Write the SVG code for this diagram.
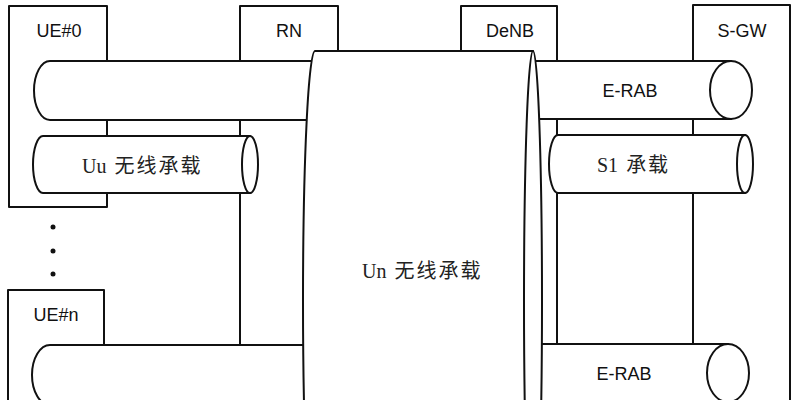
<svg xmlns="http://www.w3.org/2000/svg" width="799" height="400" viewBox="0 0 799 400">
<style>
.s{fill:#fff;stroke:#111;stroke-width:2;stroke-linejoin:round}
.lbl{font-family:"Liberation Sans",Arial,sans-serif;font-size:18px;fill:#111;text-anchor:middle}
.cj{font-family:"Liberation Serif","Noto Sans CJK SC",serif;font-size:20px;fill:#222}
.sp{letter-spacing:2px}
</style>
<rect width="799" height="400" fill="#fff"/>
<g id="nodes">
  <g id="ue0"><rect class="s" x="9" y="6" width="98" height="201"/><text class="lbl" x="59" y="37">UE#0</text></g>
  <g id="uen"><rect class="s" x="8" y="290" width="96" height="130"/><text class="lbl" x="56" y="321">UE#n</text></g>
  <g id="rn"><rect class="s" x="240" y="6" width="98" height="339"/><text class="lbl" x="289" y="37">RN</text></g>
  <g id="denb"><rect class="s" x="461" y="6" width="96" height="339"/><text class="lbl" x="510" y="37">DeNB</text></g>
  <g id="sgw"><rect class="s" x="693" y="5" width="97" height="420"/><text class="lbl" x="742" y="37">S-GW</text></g>
  <g id="dots" fill="#111"><circle cx="53" cy="227" r="2.5"/><circle cx="53" cy="251" r="2.5"/><circle cx="53" cy="274" r="2.5"/></g>
</g>
<g id="connectors">
  <g id="tube-ue0"><path class="s" d="M320,61 H50 A16 29.5 0 0 0 50,120 H320 Z"/></g>
  <g id="tube-uen"><path class="s" d="M320,345 H50 A18 30 0 0 0 50,405 H320 Z"/></g>
  <g id="uu-bearer">
    <path class="s" d="M250,136 H43 A10 28.5 0 0 0 43,193 H250 Z"/>
    <ellipse class="s" cx="250" cy="164.5" rx="8" ry="28.5"/>
    <text class="cj" x="82" y="173">Uu <tspan class="sp" dx="3">无线承载</tspan></text>
  </g>
  <g id="erab-top">
    <path class="s" d="M530,61 H731 V119 H530 Z"/>
    <ellipse class="s" cx="731" cy="90" rx="21" ry="29"/>
    <text class="lbl" x="630" y="97">E-RAB</text>
  </g>
  <g id="s1-bearer">
    <path class="s" d="M745,135 H558 A9 29 0 0 0 558,193 H745 Z"/>
    <ellipse class="s" cx="745" cy="164" rx="8" ry="29"/>
    <text class="cj" x="597" y="172">S1 <tspan class="sp" dx="3">承载</tspan></text>
  </g>
  <g id="erab-bottom">
    <path class="s" d="M530,344 H728 V402 H530 Z"/>
    <ellipse class="s" cx="728" cy="373" rx="21" ry="29"/>
    <text class="lbl" x="624" y="380">E-RAB</text>
  </g>
  <g id="un-bearer">
    <path class="s" d="M533,51 H315 A12 250 0 0 0 315,551 H533 Z"/>
    <ellipse class="s" cx="533" cy="301" rx="9" ry="250"/>
    <text class="cj" x="362" y="278">Un <tspan class="sp" dx="3">无线承载</tspan></text>
  </g>
</g>
</svg>
